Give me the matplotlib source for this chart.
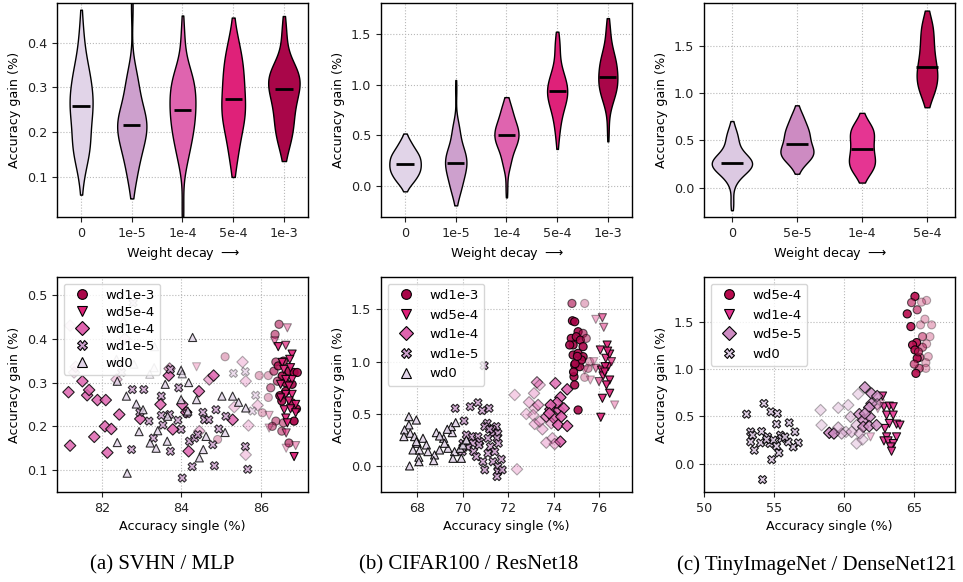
"""
Weight decay vs. ensemble accuracy gain: violins (top) and scatter against single-model accuracy (bottom)
for SVHN / MLP, CIFAR100 / ResNet18 and TinyImageNet / DenseNet121.
"""
import numpy as np
import matplotlib
matplotlib.use("Agg")
import matplotlib.pyplot as plt
from matplotlib.lines import Line2D

# ---------------- data ----------------
# weight decay groups, ascending
SVHN_WD = ["0", "1e-5", "1e-4", "5e-4", "1e-3"]
CIFAR_WD = ["0", "1e-5", "1e-4", "5e-4", "1e-3"]
TINY_WD = ["0", "5e-5", "1e-4", "5e-4"]

# accuracy single (x), accuracy gain (y), point opacity (a)
SVHN_X = {
    "1e-3": [86.46, 86.36, 85.10, 86.19, 85.96, 86.33, 86.38, 86.44, 86.57, 86.71, 86.84, 86.92, 86.54, 86.42,
             86.25, 86.19, 86.63, 86.79, 86.53, 86.78, 86.90, 86.04, 86.38, 86.57, 86.29, 86.84, 86.53, 86.71,
             84.91, 86.62, 86.48],
    "5e-4": [86.67, 86.35, 86.44, 86.63, 86.79, 86.73, 86.54, 86.58, 86.75, 86.79, 86.63, 86.50, 86.71, 86.79,
             86.63, 86.50, 86.71, 86.88, 86.59, 86.75, 86.21, 86.88, 86.63, 86.67, 86.21, 86.64, 86.88, 86.64,
             86.84, 84.38],
    "1e-4": [81.19, 81.15, 81.62, 81.67, 81.50, 81.88, 82.09, 81.80, 82.07, 82.23, 82.13, 82.43, 82.96, 83.70,
             83.68, 83.47, 83.78, 84.02, 84.12, 84.18, 84.44, 84.70, 84.81, 85.29, 84.45, 85.54, 85.62, 85.69,
             85.62, 81.19, 81.29, 81.33, 82.36, 82.57, 85.33, 85.92, 84.70],
    "1e-5": [82.78, 84.02, 84.27, 84.83, 85.67, 85.61, 82.74, 82.76, 83.05, 82.95, 83.18, 83.29, 83.49, 83.49,
             83.53, 83.70, 83.72, 83.72, 83.91, 83.93, 83.99, 84.14, 84.20, 84.33, 84.41, 84.54, 84.58, 84.69,
             84.79, 84.87, 84.94, 85.12, 85.31, 85.61, 85.79, 85.87, 82.49],
    "0": [82.63, 84.28, 82.61, 82.38, 82.86, 83.03, 82.93, 83.21, 83.36, 83.40, 83.59, 83.64, 83.65, 83.99,
          83.99, 84.38, 84.16, 84.45, 84.55, 84.62, 85.02, 85.29, 85.44, 85.62, 85.10, 84.18, 82.38, 82.36,
          82.54, 82.80, 83.20, 83.31, 83.32, 84.02],
}
SVHN_Y = {
    "1e-3": [0.433, 0.410, 0.359, 0.316, 0.316, 0.326, 0.347, 0.338, 0.349, 0.326, 0.323, 0.323, 0.315, 0.303,
             0.288, 0.266, 0.280, 0.296, 0.258, 0.254, 0.240, 0.231, 0.212, 0.208, 0.200, 0.212, 0.189, 0.162,
             0.170, 0.300, 0.270],
    "5e-4": [0.425, 0.395, 0.382, 0.385, 0.365, 0.353, 0.346, 0.330, 0.334, 0.307, 0.307, 0.296, 0.292, 0.273,
             0.273, 0.265, 0.258, 0.250, 0.238, 0.240, 0.225, 0.231, 0.219, 0.208, 0.196, 0.185, 0.156, 0.150,
             0.131, 0.336],
    "1e-4": [0.156, 0.278, 0.271, 0.283, 0.303, 0.260, 0.260, 0.176, 0.200, 0.194, 0.140, 0.227, 0.217, 0.332,
             0.316, 0.250, 0.193, 0.250, 0.232, 0.143, 0.280, 0.307, 0.316, 0.215, 0.189, 0.347, 0.303, 0.202,
             0.135, 0.430, 0.323, 0.336, 0.307, 0.400, 0.244, 0.248, 0.025],
    "1e-5": [0.482, 0.082, 0.108, 0.110, 0.102, 0.154, 0.147, 0.284, 0.284, 0.232, 0.212, 0.173, 0.225, 0.269,
             0.203, 0.227, 0.143, 0.330, 0.214, 0.288, 0.193, 0.229, 0.166, 0.173, 0.181, 0.232, 0.215, 0.215,
             0.158, 0.238, 0.194, 0.223, 0.321, 0.325, 0.235, 0.271, 0.323],
    "0": [0.093, 0.403, 0.269, 0.163, 0.251, 0.238, 0.188, 0.162, 0.150, 0.190, 0.296, 0.166, 0.223, 0.328,
          0.261, 0.261, 0.235, 0.128, 0.147, 0.177, 0.269, 0.269, 0.255, 0.242, 0.186, 0.300, 0.303, 0.353,
          0.441, 0.342, 0.319, 0.334, 0.382, 0.320],
}
SVHN_A = {
    "1e-3": [0.55, 0.55, 0.3, 0.3, 0.3, 0.6, 0.6, 0.8, 0.8, 0.9, 0.9, 0.9, 0.9, 0.6, 0.5, 0.3, 0.9, 0.9, 0.9, 0.9,
             0.9, 0.3, 0.5, 0.5, 0.5, 0.95, 0.5, 0.6, 0.3, 0.9, 0.9],
    "5e-4": [0.4, 0.5, 0.9, 0.7, 0.9, 0.9, 0.9, 0.9, 0.9, 0.9, 0.9, 0.9, 0.9, 0.9, 0.9, 0.9, 0.9, 0.9, 0.9, 0.9,
             0.3, 0.9, 0.9, 0.9, 0.3, 0.6, 0.4, 0.3, 0.95, 0.25],
    "1e-4": [0.85, 0.85, 0.85, 0.85, 0.85, 0.85, 0.85, 0.85, 0.85, 0.85, 0.85, 0.85, 0.85, 0.5, 0.85, 0.85, 0.85,
             0.85, 0.85, 0.85, 0.85, 0.5, 0.85, 0.85, 0.4, 0.3, 0.3, 0.3, 0.3, 0.15, 0.2, 0.2, 0.3, 0.2, 0.3, 0.3,
             0.85],
    "1e-5": [0.3, 0.8, 0.8, 0.8, 0.8, 0.8, 0.8, 0.8, 0.8, 0.8, 0.8, 0.8, 0.8, 0.8, 0.8, 0.8, 0.8, 0.8, 0.8, 0.8,
             0.8, 0.8, 0.8, 0.8, 0.8, 0.8, 0.8, 0.8, 0.8, 0.8, 0.8, 0.8, 0.35, 0.35, 0.35, 0.35, 0.3],
    "0": [0.8, 0.8, 0.8, 0.8, 0.8, 0.8, 0.8, 0.8, 0.8, 0.8, 0.8, 0.8, 0.8, 0.8, 0.8, 0.8, 0.8, 0.8, 0.8, 0.8,
          0.8, 0.8, 0.8, 0.8, 0.8, 0.8, 0.8, 0.25, 0.25, 0.25, 0.25, 0.25, 0.25, 0.6],
}

CIFAR_X = {
    "1e-3": [74.81, 75.37, 74.83, 74.93, 74.78, 75.08, 75.30, 75.00, 74.86, 75.18, 75.44, 74.86, 75.08, 75.30,
             75.30, 74.93, 75.15, 74.90, 74.93, 75.37, 75.08, 75.52, 75.59, 74.71, 75.23, 74.95, 75.05, 74.88],
    "5e-4": [75.86, 76.15, 76.21, 76.06, 76.36, 76.30, 76.47, 75.86, 76.11, 76.40, 75.77, 76.18, 76.47, 76.00,
             76.33, 76.47, 76.15, 76.69, 76.08, 75.62, 75.37, 76.27, 76.55, 76.25, 76.38],
    "1e-4": [72.29, 72.39, 73.27, 73.39, 73.14, 72.92, 72.80, 73.17, 73.39, 73.51, 73.68, 73.86, 74.02, 74.24,
             74.08, 74.30, 74.15, 73.87, 74.45, 74.34, 73.90, 74.20, 74.60, 74.60, 73.95, 74.30, 74.05, 73.68,
             73.17, 73.10, 73.81, 73.32],
    "1e-5": [70.94, 69.67, 70.06, 70.33, 70.67, 70.86, 71.16, 71.08, 71.48, 71.30, 70.97, 70.67, 70.75, 70.45,
             70.23, 70.01, 69.98, 70.48, 70.60, 70.89, 70.97, 71.11, 71.22, 71.41, 71.33, 71.55, 71.51, 71.33,
             71.55, 71.55, 71.51, 71.70, 71.74, 71.57, 71.18, 71.11, 70.72, 70.38, 70.16],
    "0": [67.63, 67.63, 67.44, 67.69, 67.96, 67.88, 68.00, 67.81, 68.10, 68.25, 68.40, 68.47, 68.07, 68.07,
          67.66, 68.76, 68.72, 68.98, 69.35, 68.84, 69.54, 69.50, 69.32, 69.69, 69.16, 68.98, 69.64, 69.20,
          69.57, 69.94, 69.89, 70.01, 70.16, 67.96, 67.41],
}
CIFAR_Y = {
    "1e-3": [1.557, 1.557, 1.391, 1.382, 1.222, 1.286, 1.270, 1.238, 1.159, 1.206, 1.222, 1.063, 1.079, 1.143,
             1.047, 0.967, 0.951, 0.855, 0.776, 0.849, 0.536, 0.935, 0.999, 1.159, 1.015, 0.980, 1.050, 0.900],
    "5e-4": [1.404, 1.420, 1.328, 1.111, 1.158, 1.031, 1.072, 0.935, 0.919, 0.951, 0.999, 0.862, 0.823, 0.808,
             0.776, 0.696, 0.648, 0.584, 0.466, 0.823, 0.919, 0.951, 0.999, 0.900, 1.100],
    "1e-4": [0.680, -0.032, 0.801, 0.776, 0.696, 0.610, 0.498, 0.402, 0.425, 0.351, 0.472, 0.543, 0.456, 0.536,
             0.792, 0.657, 0.606, 0.584, 0.552, 0.472, 0.409, 0.393, 0.383, 0.734, 0.265, 0.233, 0.210, 0.223,
             0.552, 0.488, 0.504, 0.584],
    "1e-5": [0.961, 0.552, 0.431, 0.568, 0.606, 0.530, 0.552, 0.409, 0.377, 0.351, 0.377, 0.281, 0.233, 0.217,
             0.179, 0.217, 0.137, 0.137, 0.089, 0.041, -0.038, 0.121, 0.185, 0.137, 0.313, 0.313, 0.265, 0.041,
             -0.006, -0.054, -0.102, 0.064, -0.038, 0.217, 0.351, 0.265, 0.201, 0.281, 0.297],
    "0": [0.472, 0.393, 0.345, 0.313, 0.440, 0.281, 0.217, 0.153, 0.153, 0.265, 0.201, 0.137, 0.083, 0.041,
          0.000, 0.105, 0.051, 0.153, 0.169, 0.319, 0.319, 0.377, 0.351, 0.415, 0.265, 0.287, 0.137, 0.217,
          0.073, 0.073, 0.169, 0.201, 0.249, 0.233, 0.281],
}
CIFAR_A = {
    "1e-3": [0.6, 0.3, 0.9, 0.9, 0.9, 0.9, 0.6, 0.9, 0.9, 0.9, 0.5, 0.9, 0.9, 0.9, 0.9, 0.9, 0.9, 0.9, 0.9, 0.3,
             0.9, 0.4, 0.3, 0.9, 0.9, 0.9, 0.9, 0.9],
    "5e-4": [0.35, 0.6, 0.5, 0.85, 0.9, 0.85, 0.9, 0.5, 0.9, 0.9, 0.3, 0.85, 0.9, 0.6, 0.9, 0.9, 0.9, 0.35, 0.9,
             0.3, 0.3, 0.9, 0.7, 0.9, 0.9],
    "1e-4": [0.3, 0.3, 0.6, 0.35, 0.35, 0.35, 0.3, 0.35, 0.4, 0.35, 0.7, 0.9, 0.9, 0.9, 0.8, 0.9, 0.9, 0.9, 0.9,
             0.9, 0.4, 0.9, 0.9, 0.9, 0.35, 0.9, 0.4, 0.35, 0.3, 0.3, 0.9, 0.5],
    "1e-5": [0.85] * 39,
    "0": [0.9] * 35,
}

TINY_X = {
    "5e-4": [65.05, 64.50, 64.76, 65.21, 65.45, 65.88, 65.52, 65.76, 66.24, 66.12, 65.59, 65.17, 64.88, 65.05,
             65.59, 65.88, 65.40, 65.21, 66.00, 65.36, 65.12, 65.83, 65.83, 64.81, 65.30, 65.00],
    "1e-4": [62.74, 62.84, 63.22, 63.50, 63.03, 63.50, 63.22, 63.74, 63.98, 62.91, 63.03, 63.74, 62.84, 63.13,
             63.50, 63.32, 63.38, 61.88, 62.40, 62.60],
    "5e-5": [58.32, 58.39, 58.94, 59.27, 59.58, 60.29, 60.46, 60.89, 60.13, 60.53, 60.89, 61.00, 61.48, 61.95,
             62.36, 61.95, 61.08, 61.36, 61.79, 61.83, 61.36, 61.79, 62.31, 61.12, 62.36, 59.82, 59.58, 61.48,
             61.31],
    "0": [53.04, 54.28, 53.33, 53.47, 53.33, 53.59, 54.11, 54.04, 54.18, 54.78, 55.23, 55.18, 54.54, 54.70,
          54.94, 55.46, 56.08, 56.49, 56.73, 56.37, 56.01, 55.18, 55.35, 54.83, 54.47, 55.54, 55.78],
}
TINY_Y = {
    "5e-4": [1.765, 1.581, 1.447, 1.624, 1.465, 1.723, 1.705, 1.525, 1.465, 1.341, 1.341, 1.278, 1.253, 1.200,
             1.228, 1.264, 1.122, 1.112, 1.130, 1.006, 0.953, 1.066, 1.006, 1.700, 1.180, 1.050],
    "1e-4": [0.713, 0.600, 0.607, 0.600, 0.512, 0.512, 0.424, 0.417, 0.406, 0.371, 0.282, 0.282, 0.240, 0.240,
             0.212, 0.176, 0.131, 0.282, 0.580, 0.630],
    "5e-5": [0.565, 0.406, 0.325, 0.318, 0.589, 0.618, 0.494, 0.406, 0.335, 0.335, 0.212, 0.734, 0.805, 0.741,
             0.713, 0.635, 0.522, 0.459, 0.593, 0.494, 0.388, 0.395, 0.406, 0.318, 0.628, 0.318, 0.381, 0.529,
             0.254],
    "0": [0.522, 0.635, 0.335, 0.300, 0.229, 0.141, 0.339, 0.219, -0.169, 0.547, 0.529, 0.417, 0.282, 0.212,
          0.247, 0.300, 0.431, 0.335, 0.219, 0.176, 0.229, 0.184, 0.113, 0.042, 0.254, 0.265, 0.282],
}
TINY_A = {
    "5e-4": [0.9, 0.9, 0.9, 0.6, 0.3, 0.3, 0.3, 0.3, 0.3, 0.3, 0.5, 0.9, 0.9, 0.9, 0.5, 0.3, 0.6, 0.9, 0.3, 0.6,
             0.9, 0.3, 0.3, 0.6, 0.6, 0.6],
    "1e-4": [0.9] * 17 + [0.3, 0.3, 0.3],
    "5e-5": [0.3, 0.3, 0.9, 0.9, 0.3, 0.3, 0.4, 0.4, 0.3, 0.4, 0.3, 0.3, 0.8, 0.8, 0.8, 0.8, 0.8, 0.8, 0.9, 0.8,
             0.8, 0.8, 0.8, 0.4, 0.4, 0.4, 0.4, 0.8, 0.3],
    "0": [0.9] * 27,
}

CAPTIONS = ["(a) SVHN / MLP", "(b) CIFAR100 / ResNet18", "(c) TinyImageNet / DenseNet121"]

MARKERS = ["o", "v", "D", "X", "^"]  # highest weight decay first
CUT = 0.8  # violin extends this many bandwidths past the data


def kde(d, grid):
    # gaussian KDE, Scott's rule
    bw = d.std(ddof=1) * len(d) ** (-1 / 5)
    z = (grid[:, None] - d[None, :]) / bw
    return np.exp(-0.5 * z ** 2).sum(1) / (len(d) * bw * np.sqrt(2 * np.pi)), bw


def style(ax, fs):
    ax.grid(True, ls=":", color="#b8b8b8", lw=0.8)
    ax.set_axisbelow(True)
    ax.tick_params(labelsize=fs, colors="#222222", labelcolor="#222222")
    for sp in ax.spines.values():
        sp.set_color("black")
        sp.set_linewidth(1.0)


def panel(ax_v, ax_s, wds, xs, ys, alphas, xlim_v, ylim_v, xlim_s, ylim_s, xticks_s, fs, lsp):
    n = len(wds)
    cols = plt.get_cmap("PuRd")(np.linspace(0, 1, n + 2)[1:-1])

    # violins of accuracy gain per weight decay (equal area)
    curves = []
    for w in wds:
        d = np.array(ys[w])
        _, bw = kde(d, d[:1])
        grid = np.linspace(d.min() - CUT * bw, d.max() + CUT * bw, 300)
        dens, _ = kde(d, grid)
        curves.append((grid, dens))
    peak = max(c[1].max() for c in curves)
    for i, ((grid, dens), c) in enumerate(zip(curves, cols)):
        half = dens / peak * 0.31
        ax_v.fill_betweenx(grid, i - half, i + half, facecolor=c, edgecolor="black", lw=1.0)
        ax_v.hlines(np.median(ys[wds[i]]), i - 0.17, i + 0.17, color="black", lw=2, zorder=3)
    ax_v.set_xticks(np.arange(n))
    ax_v.set_xticklabels(wds)
    ax_v.set_xlim(*xlim_v)
    ax_v.set_ylim(*ylim_v)
    ax_v.set_xlabel(r"Weight decay $\longrightarrow$", fontsize=fs)
    ax_v.set_ylabel("Accuracy gain (%)", fontsize=fs)
    style(ax_v, fs)

    # scatter: accuracy single vs gain
    handles = []
    for k, w in enumerate(wds[::-1]):
        c = cols[n - 1 - k]
        a = np.array(alphas[w])
        fc = np.tile(c, (len(a), 1))
        fc[:, 3] = a
        ec = np.zeros((len(a), 4))
        ec[:, 3] = a
        ax_s.scatter(xs[w], ys[w], marker=MARKERS[k], s=34, facecolors=fc, edgecolors=ec, linewidths=0.8)
        handles.append(Line2D([], [], marker=MARKERS[k], ls="none", mfc=c, mec="black", mew=0.8, ms=7,
                              label="wd" + w))
    ax_s.legend(handles=handles, loc="upper left", fontsize=9.5, labelspacing=lsp)
    ax_s.set_xlim(*xlim_s)
    ax_s.set_ylim(*ylim_s)
    ax_s.set_xticks(xticks_s)
    ax_s.set_xlabel("Accuracy single (%)", fontsize=fs)
    ax_s.set_ylabel("Accuracy gain (%)", fontsize=fs)
    style(ax_s, fs)


fig = plt.figure(figsize=(9.63, 5.82), dpi=100)
lefts = [0.0592, 0.3956, 0.7310]
W = 0.2606
top_axes = [fig.add_axes([l, 0.627, W, 0.368]) for l in lefts]
bot_axes = [fig.add_axes([l, 0.1546, W, 0.3694]) for l in lefts]

panel(top_axes[0], bot_axes[0], SVHN_WD, SVHN_X, SVHN_Y, SVHN_A,
      (-0.475, 4.475), (0.01, 0.489), (80.86, 87.19), (0.05, 0.541), [82, 84, 86], 9.2, 0.3)
top_axes[0].set_yticks([0.1, 0.2, 0.3, 0.4])
bot_axes[0].set_yticks([0.1, 0.2, 0.3, 0.4, 0.5])
panel(top_axes[1], bot_axes[1], CIFAR_WD, CIFAR_X, CIFAR_Y, CIFAR_A,
      (-0.475, 4.475), (-0.30, 1.80), (66.4, 77.45), (-0.25, 1.81), [68, 70, 72, 74, 76], 9.2, 0.5)
top_axes[1].set_yticks([0.0, 0.5, 1.0, 1.5])
bot_axes[1].set_yticks([0.0, 0.5, 1.0, 1.5])
panel(top_axes[2], bot_axes[2], TINY_WD, TINY_X, TINY_Y, TINY_A,
      (-0.43, 3.43), (-0.31, 1.95), (50, 67.9), (-0.30, 1.97), [50, 55, 60, 65], 9.2, 0.5)
top_axes[2].set_yticks([0.0, 0.5, 1.0, 1.5])
bot_axes[2].set_yticks([0.0, 0.5, 1.0, 1.5])

for x, cap in zip([0.169, 0.487, 0.848], CAPTIONS):
    fig.text(x, 0.029, cap, ha="center", va="center", fontsize=15, family="Liberation Serif")

plt.savefig("out.png", dpi=100)
plt.close()
